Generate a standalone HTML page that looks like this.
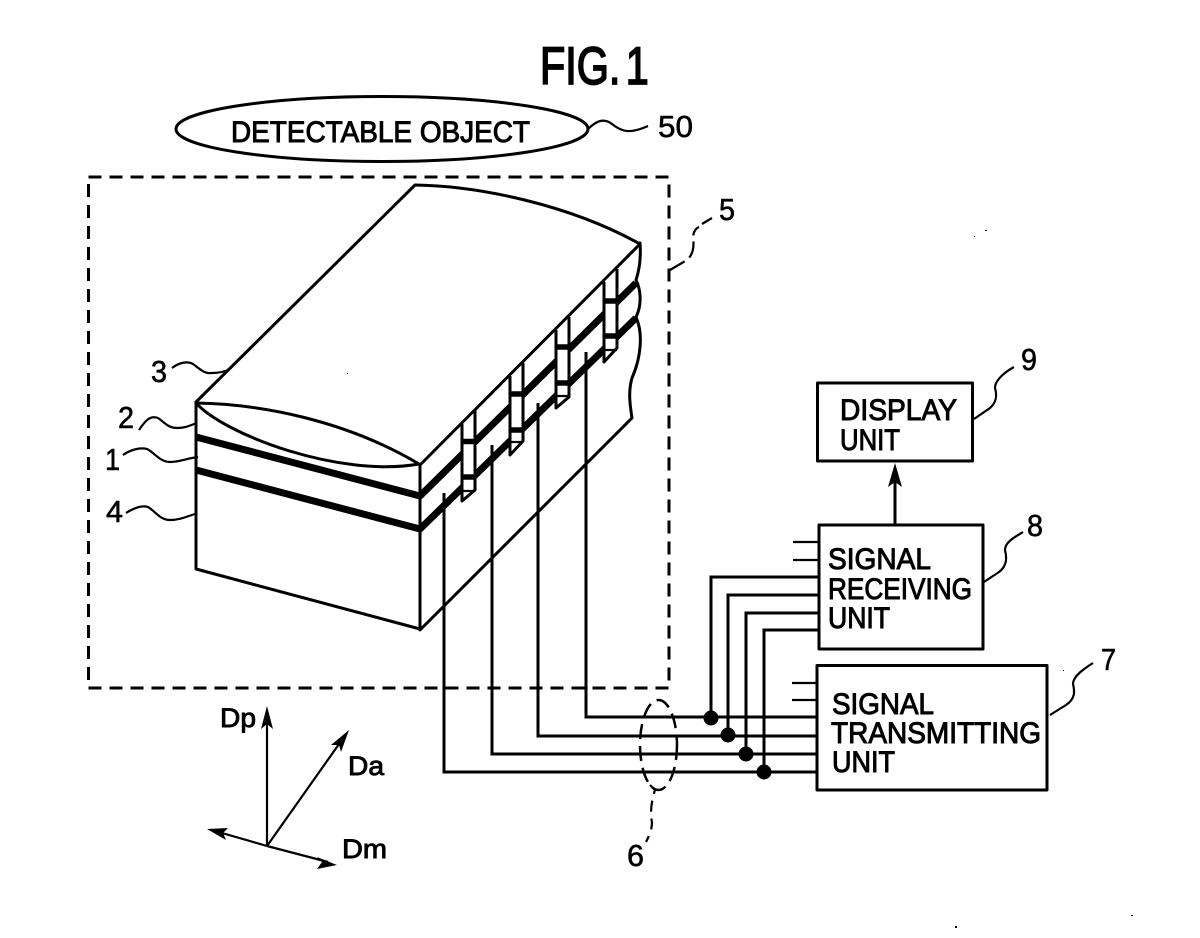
<!DOCTYPE html>
<html>
<head>
<meta charset="utf-8">
<style>
html,body{margin:0;padding:0;background:#fff;width:1200px;height:938px;overflow:hidden}
svg{display:block}
text{font-family:"Liberation Sans",sans-serif;fill:#000;stroke:#000;stroke-width:.6}
.n{font-size:31px}
.b{font-size:30px;stroke-width:1}
.a{font-size:27px;stroke-width:.9}
.l{fill:none;stroke:#000;stroke-width:3;stroke-linecap:round;stroke-linejoin:round}
.t{fill:none;stroke:#000;stroke-width:2.200}
.w{fill:none;stroke:#000;stroke-width:3}
.d{fill:none;stroke:#000;stroke-width:3;stroke-dasharray:13 8}
.k{fill:none;stroke:#000;stroke-width:7;stroke-linejoin:round}
.tab{fill:#fff;stroke:none}
.e{fill:none;stroke:#000;stroke-width:3;stroke-linejoin:round}
</style>
</head>
<body>
<svg width="1200" height="938" viewBox="0 0 1200 938" xmlns="http://www.w3.org/2000/svg">
<rect width="1200" height="938" fill="#fff"/>

<!-- title -->
<text transform="translate(540,84) scale(.78,1)" font-size="53" style="stroke-width:1.800">FIG.<tspan dx="7">1</tspan></text>

<!-- detectable object -->
<ellipse cx="382" cy="129" rx="206" ry="32.5" class="l"/>
<text class="b" x="231" y="142" textLength="299" lengthAdjust="spacingAndGlyphs">DETECTABLE OBJECT</text>
<path class="t" d="M587,130 C597,120 604,118 612,124 C622,132 630,134 648,126"/>
<text class="n" x="658" y="137" textLength="35" lengthAdjust="spacingAndGlyphs">50</text>

<!-- dashed enclosure -->
<rect x="88.500" y="177" width="580.500" height="511" class="d"/>
<path d="M670,270 L687,260 C694,254 694,244 693,238 C693,232 696,228 699,227" fill="none" stroke="#000" stroke-width="2.200" stroke-dasharray="17 6"/>
<path d="M702,224 L712,218" class="t"/>
<text class="n" x="719" y="220" textLength="16" lengthAdjust="spacingAndGlyphs">5</text>

<!-- block: faces -->
<path class="l" d="M196,402 L415,185 C480,186 570,205 640,244 L420,465"/>
<path class="l" d="M196,402 L196,569 L420,629 L420,465"/>
<path class="l" d="M196,403 C260,404 345,420 419,464"/>
<path class="l" d="M196,403 C225,435 340,478 419,464"/>
<path class="l" d="M640,243 C641,256 640,268 636,280 C641,290 642,305 636,317 C644,335 640,360 632,378 C628,392 630,405 632,418 L420,630"/>

<!-- thick layers -->
<path class="k" d="M196,437 L420,496 L636,283"/>
<path class="k" d="M196,470 L420,529 L636,318"/>

<!-- tabs -->
<path class="tab" d="M463,424 L474,413 L474,490 L463,499 Z"/>
<path class="tab" d="M511,376 L522,365 L522,440 L511,453 Z"/>
<path class="tab" d="M557,330 L568,319 L568,397 L557,406 Z"/>
<path class="tab" d="M605,281 L616,270 L616,348 L605,360 Z"/>
<path class="e" d="M462,423 V501 L475,490 V410"/>
<path class="e" d="M510,376 V455 L523,441 V363"/>
<path class="e" d="M556,330 V408 L569,397 V317"/>
<path class="e" d="M604,282 V362 L617,348 V269"/>
<g stroke="#000" stroke-width="5.500" fill="none">
<path d="M462,441.500 H476 M462,477 H476"/>
<path d="M510,394 H524 M510,430 H524"/>
<path d="M556,347 H570 M556,383 H570"/>
<path d="M604,301 H618 M604,336 H618"/>
</g>
<path class="t" d="M462,491 H475 M510,442 H523 M556,396 H569 M604,350 H617"/>

<!-- reference leaders left -->
<text class="n" x="151" y="382" textLength="16" lengthAdjust="spacingAndGlyphs">3</text>
<path class="t" d="M172,368 C180,362 188,361 193,364 C200,369 204,374 212,373 C218,373 223,372 228,370"/>
<text class="n" x="118" y="428" textLength="16" lengthAdjust="spacingAndGlyphs">2</text>
<path class="t" d="M139,430 C145,421 150,415 158,418 C164,422 168,428 177,428 C186,428 191,425 197,423"/>
<text class="n" x="105" y="470" textLength="15" lengthAdjust="spacingAndGlyphs">1</text>
<path class="t" d="M123,455 C130,450 140,447 147,449 C155,453 160,462 170,462 C180,462 188,458 198,457"/>
<text class="n" x="106" y="522" textLength="17" lengthAdjust="spacingAndGlyphs">4</text>
<path class="t" d="M126,513 C134,508 142,505 148,507 C155,511 160,520 170,520 C180,520 188,516 195,514"/>

<!-- signal wires -->
<path class="w" d="M586,352 V717 H818"/>
<path class="w" d="M538,403 V736 H818"/>
<path class="w" d="M492,445 V754 H818"/>
<path class="w" d="M444,493 V772 H818"/>
<path class="w" d="M711,717 V577 H819"/>
<path class="w" d="M728,736 V595 H819"/>
<path class="w" d="M746,754 V613 H819"/>
<path class="w" d="M764,772 V630 H819"/>
<g fill="#000">
<circle cx="711" cy="718" r="7.500"/>
<circle cx="728" cy="735" r="7.500"/>
<circle cx="746" cy="754" r="7.500"/>
<circle cx="764" cy="772" r="7.500"/>
</g>

<!-- cable bundle 6 -->
<ellipse cx="658.500" cy="745" rx="18.500" ry="45" fill="none" stroke="#000" stroke-width="2.500" stroke-dasharray="15 7"/>
<path d="M650,785 L655,790 C651,802 650,815 652,822 C652,830 649,836 646,842" fill="none" stroke="#000" stroke-width="2.200" stroke-dasharray="11 7"/>
<text class="n" x="627" y="866" textLength="17" lengthAdjust="spacingAndGlyphs">6</text>

<!-- display unit -->
<rect x="817.500" y="383" width="155" height="78" class="l"/>
<text class="b" x="840" y="420" textLength="117" lengthAdjust="spacingAndGlyphs">DISPLAY</text>
<text class="b" x="840" y="450" textLength="60" lengthAdjust="spacingAndGlyphs">UNIT</text>
<path class="t" d="M974,419 L990,408 C997,402 997,395 995,388 C995,380 1005,372 1014,367"/>
<text class="n" x="1021" y="370" textLength="16" lengthAdjust="spacingAndGlyphs">9</text>
<path d="M895,525 V480" stroke="#000" stroke-width="3" fill="none"/>
<path d="M895,463 L888,487 L895,482 L902,487 Z" fill="#000"/>

<!-- signal receiving unit -->
<rect x="819" y="525" width="164" height="124" class="l"/>
<path class="t" d="M793,542 H819 M793,560 H819"/>
<text class="b" x="828" y="569" textLength="103" lengthAdjust="spacingAndGlyphs">SIGNAL</text>
<text class="b" x="828" y="599" textLength="144" lengthAdjust="spacingAndGlyphs">RECEIVING</text>
<text class="b" x="828" y="628" textLength="62" lengthAdjust="spacingAndGlyphs">UNIT</text>
<path class="t" d="M984,582 L999,572 C1007,566 1007,558 1005,550 C1005,542 1015,537 1023,532"/>
<text class="n" x="1027" y="536" textLength="16" lengthAdjust="spacingAndGlyphs">8</text>

<!-- signal transmitting unit -->
<rect x="817" y="665.500" width="230" height="124.500" class="l"/>
<path class="t" d="M792,683 H817 M792,700 H817"/>
<text class="b" x="832" y="714" textLength="102" lengthAdjust="spacingAndGlyphs">SIGNAL</text>
<text class="b" x="831" y="743" textLength="210" lengthAdjust="spacingAndGlyphs">TRANSMITTING</text>
<text class="b" x="832" y="772" textLength="63" lengthAdjust="spacingAndGlyphs">UNIT</text>
<path class="t" d="M1050,715 L1066,705 C1075,699 1075,692 1073,684 C1073,676 1085,668 1093,663"/>
<text class="n" x="1101" y="670" textLength="15" lengthAdjust="spacingAndGlyphs">7</text>

<!-- axes -->
<path class="t" d="M267,846 V716"/>
<path d="M267,706 L261,729 L267,724 L273,729 Z" fill="#000"/>
<path class="t" d="M267,846 L344,737"/>
<path d="M349,730 L331,745 L339,745 L341,752 Z" fill="#000"/>
<path class="t" d="M267,846 L215,831"/>
<path d="M207,829 L228,828 L223,833 L226,840 Z" fill="#000"/>
<path class="t" d="M267,846 L328,862"/>
<path d="M337,865 L317,857 L322,862 L317,869 Z" fill="#000"/>
<text class="a" x="220" y="727" textLength="36" lengthAdjust="spacingAndGlyphs">Dp</text>
<text class="a" x="348" y="775" textLength="36" lengthAdjust="spacingAndGlyphs">Da</text>
<text class="a" x="342" y="858" textLength="45" lengthAdjust="spacingAndGlyphs">Dm</text>

<!-- scan specks -->
<g fill="#000">
<rect x="985" y="230" width="2" height="1"/>
<rect x="974" y="236" width="1" height="1"/>
<rect x="1063" y="670" width="1" height="1"/>
<rect x="347" y="373" width="1" height="1"/>
<rect x="955" y="926" width="2" height="2"/>
<rect x="1131" y="915" width="2" height="1"/>
</g>
</svg>
</body>
</html>
